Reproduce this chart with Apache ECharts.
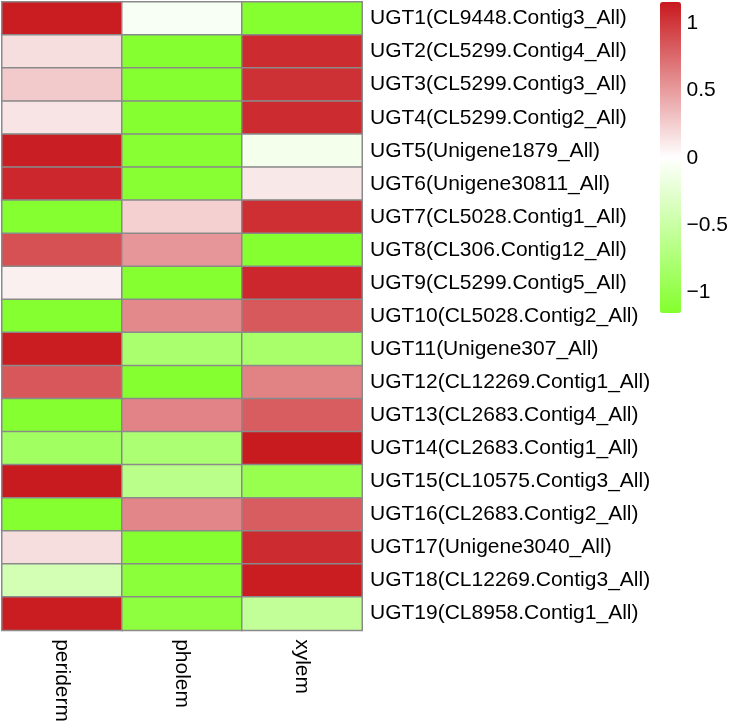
<!DOCTYPE html>
<html>
<head>
<meta charset="utf-8">
<script src="https://cdn.jsdelivr.net/npm/echarts@6/dist/echarts.min.js"></script>
<style>html,body{margin:0;padding:0;background:#fff}#c{width:731px;height:725px}</style>
</head>
<body>
<div id="c"></div>
<script>
var tissues = ['periderm', 'pholem', 'xylem'];
var genes = [
  'UGT1(CL9448.Contig3_All)', 'UGT2(CL5299.Contig4_All)', 'UGT3(CL5299.Contig3_All)',
  'UGT4(CL5299.Contig2_All)', 'UGT5(Unigene1879_All)', 'UGT6(Unigene30811_All)',
  'UGT7(CL5028.Contig1_All)', 'UGT8(CL306.Contig12_All)', 'UGT9(CL5299.Contig5_All)',
  'UGT10(CL5028.Contig2_All)', 'UGT11(Unigene307_All)', 'UGT12(CL12269.Contig1_All)',
  'UGT13(CL2683.Contig4_All)', 'UGT14(CL2683.Contig1_All)', 'UGT15(CL10575.Contig3_All)',
  'UGT16(CL2683.Contig2_All)', 'UGT17(Unigene3040_All)', 'UGT18(CL12269.Contig3_All)',
  'UGT19(CL8958.Contig1_All)'
];
var periderm = [1.14, 0.17, 0.27, 0.14, 1.13, 1.09, -1.14, 0.88, 0.08, -1.14, 1.14, 0.85, -1.14, -0.87, 1.15, -1.14, 0.17, -0.41, 1.14];
var pholem   = [-0.06, -1.14, -1.14, -1.14, -1.13, -1.13, 0.24, 0.53, -1.14, 0.60, -0.80, -1.14, 0.62, -0.78, -0.65, 0.61, -1.14, -1.09, -1.06];
var xylem    = [-1.14, 1.07, 1.04, 1.07, -0.10, 0.12, 1.05, -1.14, 1.09, 0.84, -0.82, 0.63, 0.82, 1.15, -0.97, 0.82, 1.07, 1.14, -0.57];
var colorTicks = [-1, -0.5, 0, 0.5, 1];
var vMin = -1.155, vMax = 1.16;

var cols = [periderm, pholem, xylem];
var data = [];
for (var c = 0; c < cols.length; c++) {
  for (var r = 0; r < genes.length; r++) {
    data.push([c, r, cols[c][r]]);
  }
}
var font = 'Liberation Sans, Arial, sans-serif';
var chart = echarts.init(document.getElementById('c'), null, {renderer: 'canvas'});
chart.setOption({
  animation: false,
  backgroundColor: '#fff',
  grid: [
    {left: 2, top: 2, width: 360, height: 633},
    {left: 660, top: 2, width: 21, height: 311}
  ],
  xAxis: [
    {
      type: 'category', gridIndex: 0, data: tissues,
      axisLine: {show: false}, axisTick: {show: false}, splitLine: {show: false},
      axisLabel: {rotate: -90, margin: 9, fontSize: 21, color: '#000', fontFamily: font}
    },
    {type: 'value', gridIndex: 1, show: false, min: 0, max: 1}
  ],
  yAxis: [
    {
      type: 'category', gridIndex: 0, data: genes, inverse: true, position: 'right',
      axisLine: {show: false}, axisTick: {show: false}, splitLine: {show: false},
      axisLabel: {margin: 8, fontSize: 21, color: '#000', fontFamily: font}
    },
    {
      type: 'value', gridIndex: 1, position: 'right', min: vMin, max: vMax,
      axisLine: {show: false}, axisTick: {show: false}, splitLine: {show: false},
      axisLabel: {
        customValues: colorTicks, margin: 9, fontSize: 21, color: '#000', fontFamily: font,
        formatter: function (v) { return String(v).replace('-', '\u2212'); }
      }
    }
  ],
  visualMap: {
    type: 'continuous', min: vMin, max: vMax, calculable: false, seriesIndex: 0,
    orient: 'vertical', left: 660, top: 2, padding: 0,
    itemWidth: 21, itemHeight: 311, hoverLink: false,
    inRange: {color: ['#84FF2E', '#FFFFFF', '#C8191E']}
  },
  series: [{
    type: 'heatmap', xAxisIndex: 0, yAxisIndex: 0, data: data,
    itemStyle: {borderColor: '#8a8a8a', borderWidth: 1.5},
    emphasis: {disabled: true}
  }]
});
</script>
</body>
</html>
